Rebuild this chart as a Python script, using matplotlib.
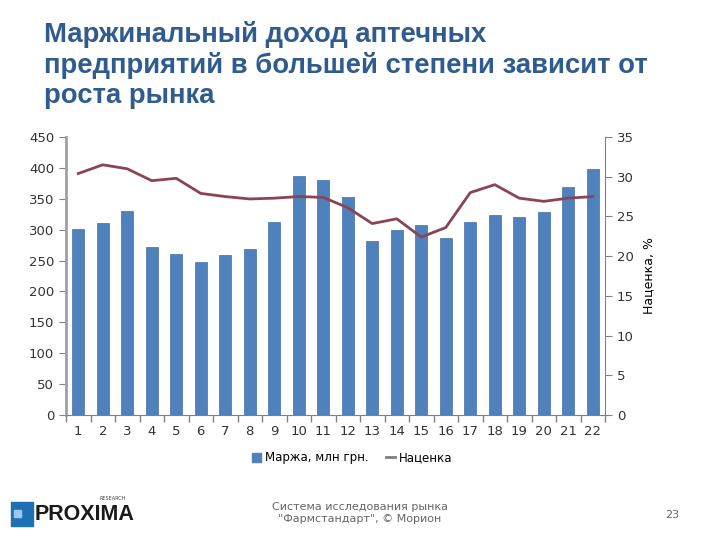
import matplotlib
matplotlib.use("Agg")
import matplotlib.pyplot as plt
from matplotlib.patches import Rectangle
from matplotlib.lines import Line2D
import numpy as np

categories = [str(i) for i in range(1, 23)]
margin = [301, 310, 330, 272, 261, 248, 259, 268, 312, 387, 381, 353,
          282, 299, 308, 287, 312, 324, 320, 329, 369, 398]
markup = [30.4, 31.5, 31.0, 29.5, 29.8, 27.9, 27.5, 27.2, 27.3, 27.5, 27.4, 26.1,
          24.1, 24.7, 22.4, 23.6, 28.0, 29.0, 27.3, 26.9, 27.3, 27.5]
left_ticks = [0, 50, 100, 150, 200, 250, 300, 350, 400, 450]
right_ticks = [0, 5, 10, 15, 20, 25, 30, 35]

title = "Маржинальный доход аптечных\nпредприятий в большей степени зависит от\nроста рынка"
bar_label = "Маржа, млн грн."
line_label = "Наценка"
right_label = "Наценка, %"
footer = "Система исследования рынка\n\"Фармстандарт\", © Морион"
page = "23"

plt.rcParams['font.family'] = ['DejaVu Sans']
fig = plt.figure(figsize=(7.2, 5.4), dpi=100)

fig.text(44/720, 1 - 21/540, title, ha='left', va='top', fontsize=19.8,
         fontweight='bold', color='#2F5B8E', family='Liberation Sans', linespacing=1.2)

ax = fig.add_axes([66/720, 1 - 415/540, (605 - 66)/720, (415 - 137)/540])
x = np.arange(len(categories))
ax.bar(x, margin, width=0.5, color='#4F81BD', edgecolor='#3F6FA8', linewidth=0.5, zorder=2)
ax.set_ylim(0, 450)
ax.set_xlim(-0.5, len(categories) - 0.5)
ax.set_yticks(left_ticks)
ax.set_xticks(x)
ax.set_xticklabels(categories)
ax.set_xticks(np.arange(-0.5, len(categories), 1), minor=True)
ax.tick_params(axis='x', which='major', length=0, labelsize=9.5, pad=7, colors='#333333')
ax.tick_params(axis='x', which='minor', length=5, color='#808080', width=1)
ax.tick_params(axis='y', labelsize=9.5, length=5, color='#808080', colors='#333333', direction='out')
for s in ['top', 'right']:
    ax.spines[s].set_visible(False)
ax.spines['left'].set_color('#A0A0A0')
ax.spines['left'].set_linewidth(2)
ax.spines['bottom'].set_color('#808080')

ax2 = ax.twinx()
ax2.plot(x, markup, color='#8B4455', linewidth=2, zorder=3)
ax2.set_ylim(0, 35)
ax2.set_yticks(right_ticks)
ax2.tick_params(axis='y', labelsize=9.5, length=5, color='#808080', colors='#333333')
for s in ['top', 'left', 'bottom']:
    ax2.spines[s].set_visible(False)
ax2.spines['right'].set_color('#808080')
ax2.set_ylabel(right_label, fontsize=9, labelpad=6)

handles = [Rectangle((0, 0), 1, 1, color='#4F81BD'),
           Line2D([0], [0], color='#7F7F7F', linewidth=2)]
fig.legend(handles, [bar_label, line_label], loc='center', bbox_to_anchor=(352/720, 1 - 458/540),
           ncol=2, frameon=False, fontsize=8.5, handlelength=0.8, handletextpad=0.3,
           columnspacing=1.5)

fig.text(360/720, 1 - 513/540, footer, ha='center', va='center', fontsize=8,
         color='#666666', linespacing=1.3)
fig.text(672/720, 1 - 515/540, page, ha='center', va='center', fontsize=8, color='#666666')

# logo
fig.patches.append(Rectangle((11/720, 1 - 526/540), 22/720, 24/540, transform=fig.transFigure,
                             color='#1F6FB5'))
fig.patches.append(Rectangle((14/720, 1 - 517/540), 7/720, 7/540, transform=fig.transFigure,
                             color='#9CC8EA'))
fig.text(35/720, 1 - 514/540, "PROXIMA", ha='left', va='center', fontsize=15.5,
         fontweight='bold', family='Liberation Sans', color='#1A1A1A')
fig.text(100/720, 1 - 499/540, "RESEARCH", ha='left', va='center', fontsize=3.5,
         color='#444444')

fig.savefig("out.png", dpi=100)
